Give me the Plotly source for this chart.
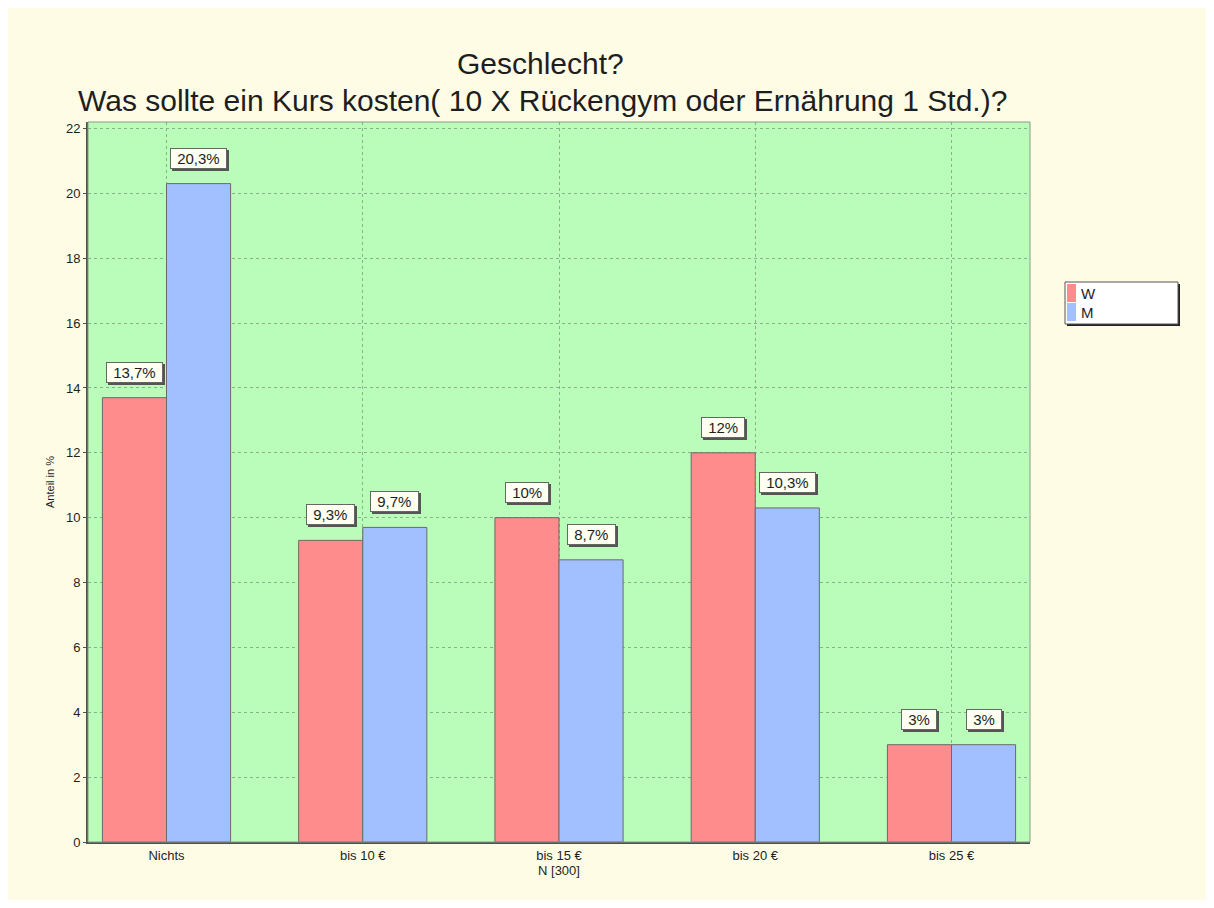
import plotly.graph_objects as go

categories = ["Nichts", "bis 10 €", "bis 15 €", "bis 20 €", "bis 25 €"]
w_values = [13.7, 9.3, 10.0, 12.0, 3.0]
m_values = [20.3, 9.7, 8.7, 10.3, 3.0]
w_labels = ["13,7%", "9,3%", "10%", "12%", "3%"]
m_labels = ["20,3%", "9,7%", "8,7%", "10,3%", "3%"]
series_names = ["W", "M"]
y_ticks = list(range(0, 23, 2))

W_COLOR = "#ff8c8c"
M_COLOR = "#a2c0ff"
FONT = "Liberation Sans, Arial, sans-serif"
TXT = "#1e1e1e"

W, H = 1198, 892
L, T, R, B = 80, 114, 176, 58
PW = W - L - R
PH = H - T - B
# screen-pixel helpers (page has an 8px body margin)
X0, Y0 = L + 8, T + 8 + PH


def px(x):
    return (x - X0) / PW


def py(y):
    return (Y0 - y) / PH


xs = list(range(len(categories)))
fig = go.Figure()
fig.add_trace(go.Bar(x=xs, y=w_values, name=series_names[0], showlegend=False,
                     marker=dict(color=W_COLOR, line=dict(color="#6a6a6a", width=1))))
fig.add_trace(go.Bar(x=xs, y=m_values, name=series_names[1], showlegend=False,
                     marker=dict(color=M_COLOR, line=dict(color="#6a6a6a", width=1))))

bargap = 0.347
half = (1 - bargap) / 4
annotations = []
for vals, labs, sign in [(w_values, w_labels, -1), (m_values, m_labels, 1)]:
    for k, (v, t) in enumerate(zip(vals, labs)):
        txt = "&nbsp;" + t + "&nbsp;"
        common = dict(x=k + sign * half, y=v, xref="x", yref="y", showarrow=False, yanchor="bottom",
                      height=15, borderpad=2, borderwidth=1)
        annotations.append(dict(common, text=txt, yshift=13, xshift=2, bgcolor="#555", bordercolor="#555",
                                font=dict(family=FONT, size=15, color="#555")))
        annotations.append(dict(common, text=txt, yshift=15, bgcolor="#fffff2", bordercolor="#666",
                                font=dict(family=FONT, size=15, color=TXT)))

annotations.append(dict(text="Anteil in %", xref="paper", yref="paper", x=px(50), xanchor="center",
                        y=0.5, yanchor="middle", textangle=-90,
                        showarrow=False, font=dict(family=FONT, size=11, color=TXT)))
annotations.append(dict(text="Geschlecht?", xref="paper", yref="paper", x=px(540), y=py(63),
                        xanchor="center", yanchor="middle", showarrow=False,
                        font=dict(family=FONT, size=30, color=TXT)))
annotations.append(dict(text="Was sollte ein Kurs kosten( 10 X Rückengym oder Ernährung 1 Std.)?",
                        xref="paper", yref="paper", x=px(542), y=py(100),
                        xanchor="center", yanchor="middle", showarrow=False,
                        font=dict(family=FONT, size=30, color=TXT)))

# legend box
shapes = [
    dict(type="rect", xref="paper", yref="paper", x0=0, x1=1, y0=0, y1=1,
         line=dict(color="#8a9a8a", width=1), fillcolor="rgba(0,0,0,0)"),
    dict(type="rect", xref="paper", yref="paper", x0=px(1067), x1=px(1180), y0=py(326), y1=py(284),
         line=dict(width=0), fillcolor="#222"),
    dict(type="rect", xref="paper", yref="paper", x0=px(1065), x1=px(1178), y0=py(324), y1=py(282),
         line=dict(color="#555", width=1), fillcolor="white"),
]
for i, (name, color) in enumerate(zip(series_names, [W_COLOR, M_COLOR])):
    top = 284 + i * 19
    shapes.append(dict(type="rect", xref="paper", yref="paper", x0=px(1067), x1=px(1076),
                       y0=py(top + 18), y1=py(top), line=dict(width=0), fillcolor=color))
    annotations.append(dict(text=name, xref="paper", yref="paper", x=px(1079), y=py(top + 9),
                            xanchor="left", yanchor="middle", showarrow=False,
                            font=dict(family=FONT, size=15, color=TXT)))

fig.update_layout(
    width=W, height=H,
    paper_bgcolor="#fffce6",
    plot_bgcolor="#bafcba",
    barmode="group", bargap=bargap, bargroupgap=0,
    margin=dict(l=L, r=R, t=T, b=B),
    font=dict(family=FONT, color=TXT),
    showlegend=False,
    xaxis=dict(tickvals=xs, ticktext=categories, range=[-0.4, 4.4], showgrid=True,
               gridcolor="#86b486", griddash="dot", gridwidth=1,
               showline=True, linecolor="#505050", linewidth=2, ticks="",
               tickfont=dict(family=FONT, size=13, color=TXT),
               title=dict(text="N [300]", standoff=2, font=dict(family=FONT, size=13, color=TXT))),
    yaxis=dict(range=[0, 22.2], tickvals=y_ticks, showgrid=True, gridcolor="#86b486", griddash="dot",
               showline=True, linecolor="#505050", linewidth=2, ticks="outside", ticklen=3, tickcolor="#505050",
               tickfont=dict(family=FONT, size=13, color=TXT), zeroline=False),
    annotations=annotations,
    shapes=shapes,
)

fig.write_html("out.html")
